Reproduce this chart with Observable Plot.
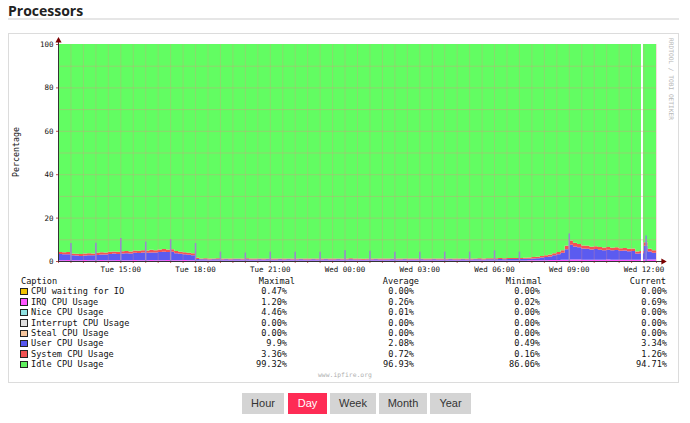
<!DOCTYPE html>
<html><head><meta charset="utf-8">
<script src="https://cdn.jsdelivr.net/npm/d3@7"></script>
<script src="https://cdn.jsdelivr.net/npm/@observablehq/plot@0.6"></script>
<style>
html,body{margin:0;padding:0;background:#fff;}
body{width:690px;height:423px;overflow:hidden;position:relative;}
.abs{position:absolute;white-space:pre;}
.mono{font-family:"DejaVu Sans Mono",monospace;color:#111;}
#title{left:8px;top:1px;font-family:"Open Sans",sans-serif;font-weight:700;font-size:14px;color:#222;}
#rule{left:8px;top:18px;width:671px;height:2px;background:#e6e6e6;}
#box{left:8px;top:33px;width:671px;height:350px;border:1px solid #dcdcdc;box-sizing:border-box;}
#chart{left:9px;top:34px;}
.btn{position:absolute;top:393px;height:21px;line-height:21px;text-align:center;font-family:"Liberation Sans",Arial,sans-serif;font-size:11px;color:#333;background:#d4d4d4;}
</style></head><body>
<div id="title" class="abs">Processors</div>
<div id="rule" class="abs"></div>
<div id="box" class="abs"></div>
<div id="chart" class="abs"></div>
<div id="legend"></div>
<div id="buttons"></div>
<script>
// ---- time axis ----
const startTime = "2024-01-02T12:30Z";
const endTime = "2024-01-03T12:30Z";
const stepMinutes = 10;

// stacked series, one value every 10 minutes (145 samples)
const irq = [
0.4,0.4,0.45,0.4,0.4,0.4,0.45,0.4,0.4,0.4,0.45,0.4,0.4,0.4,0.45,0.4,0.4,0.4,0.45,0.4,0.4,0.4,0.45,0.4,0.4,0.4,0.45,0.4,0.4,0.4,0.45,0.4,0.35,
0.25,0.2,0.2,0.2,0.2,0.2,0.2,0.2,0.2,0.2,0.2,0.2,
0.2,0.2,0.2,0.2,0.2,0.2,0.2,0.2,0.2,0.2,0.2,0.2,
0.2,0.2,0.2,0.2,0.2,0.2,0.2,0.2,0.2,0.2,0.2,0.2,
0.2,0.2,0.2,0.2,0.2,0.2,0.2,0.2,0.2,0.2,0.2,0.2,
0.2,0.2,0.2,0.2,0.2,0.2,0.2,0.2,0.2,0.2,0.2,0.2,
0.2,0.2,0.2,0.2,0.2,0.2,0.2,0.2,0.2,0.2,0.2,0.2,
0.2,0.2,0.2,0.2,0.2,0.2,
0.2,0.25,0.3,0.3,0.35,0.4,0.4,0.45,0.5,0.5,0.55,0.6,0.7,0.7,0.65,0.6,0.6,0.6,0.6,0.6,0.6,0.65,0.6,0.6,0.6,0.6,0.6,0.6,0.55,0.6,0.7,0.65,0.65,0.69];
const user = [
2.8,2.7,2.7,2.2,2.1,1.9,2.1,2.2,2.2,2.4,2.6,2.6,2.8,3.0,2.8,3.0,3.2,3.0,3.3,3.3,3.5,3.4,3.5,3.5,3.8,3.9,3.7,3.9,3.2,2.9,2.7,2.5,2.3,
0.7,0.6,0.6,0.5,0.6,0.6,0.5,0.6,0.5,0.6,0.6,0.5,
0.6,0.5,0.5,0.6,0.5,0.6,0.5,0.5,0.6,0.5,0.6,0.5,
0.5,0.6,0.5,0.5,0.6,0.5,0.5,0.6,0.5,0.5,0.6,0.5,
0.5,0.6,0.5,0.5,0.4,0.5,0.5,0.6,0.5,0.5,0.5,0.6,
0.5,0.5,0.6,0.5,0.5,0.5,0.6,0.5,0.5,0.6,0.5,0.5,
0.5,0.6,0.5,0.5,0.6,0.5,0.5,0.6,0.6,0.5,0.6,0.6,
0.6,0.7,0.6,0.7,0.7,0.7,
0.7,0.75,0.7,0.9,0.95,1.2,1.4,1.65,2.1,2.6,3.25,4.8,6.8,6.0,5.65,5.2,5.1,4.7,4.9,4.6,4.4,4.55,4.3,4.5,4.1,4.2,3.9,4.0,2.85,3.0,6.3,3.75,3.15,3.34];
const system = [
1.0,0.9,1.0,0.9,0.8,0.9,0.9,1.0,0.9,1.0,1.0,0.9,1.1,1.0,1.0,1.1,1.0,1.0,1.1,1.0,1.1,1.0,1.2,1.0,1.1,1.2,1.1,1.1,1.0,1.0,0.9,0.9,0.9,
0.5,0.4,0.45,0.4,0.4,0.45,0.4,0.4,0.45,0.4,0.4,0.4,
0.45,0.4,0.4,0.4,0.45,0.4,0.4,0.45,0.4,0.4,0.4,0.45,
0.4,0.4,0.45,0.4,0.4,0.4,0.45,0.4,0.4,0.45,0.4,0.4,
0.4,0.45,0.4,0.4,0.4,0.45,0.4,0.4,0.4,0.45,0.4,0.4,
0.45,0.4,0.4,0.4,0.45,0.4,0.4,0.4,0.45,0.4,0.4,0.45,
0.4,0.4,0.45,0.4,0.4,0.45,0.4,0.4,0.45,0.4,0.45,0.45,
0.45,0.5,0.45,0.5,0.5,0.5,
0.5,0.5,0.6,0.6,0.7,0.7,0.8,0.9,1.0,1.1,1.2,1.6,2.0,1.7,1.5,1.4,1.3,1.3,1.3,1.2,1.2,1.3,1.2,1.2,1.2,1.2,1.1,1.2,1.0,1.0,1.6,1.2,1.2,1.26];

// short hourly spikes (total height, %)
const spikeTimes = ["2024-01-02T13:00Z","2024-01-02T14:00Z","2024-01-02T15:00Z","2024-01-02T16:00Z","2024-01-02T17:00Z","2024-01-02T18:00Z","2024-01-02T19:00Z","2024-01-02T20:00Z","2024-01-02T21:00Z","2024-01-02T22:00Z","2024-01-02T23:00Z","2024-01-03T00:00Z","2024-01-03T01:00Z","2024-01-03T02:00Z","2024-01-03T03:00Z","2024-01-03T04:00Z","2024-01-03T05:00Z","2024-01-03T06:00Z","2024-01-03T07:00Z","2024-01-03T09:00Z","2024-01-03T12:05Z"];
const spikeTops = [8.3,8.4,10.6,8.9,10.1,8.3,4.3,3.9,4.3,4.3,4.3,4.9,4.7,4.3,4.3,4.3,4.3,4.9,4.3,12.7,11.8];
const gapTimes = ["2024-01-03T11:55Z"];

// stack order (bottom to top) and colours
const stackOrder = ["IRQ CPU Usage","User CPU Usage","System CPU Usage","Idle CPU Usage"];
const stackColors = ["#ff55ff","#5b5bf0","#f55252","#62fd62"];

// axis ticks
const xTickTimes = ["2024-01-02T15:00Z","2024-01-02T18:00Z","2024-01-02T21:00Z","2024-01-03T00:00Z","2024-01-03T03:00Z","2024-01-03T06:00Z","2024-01-03T09:00Z","2024-01-03T12:00Z"];
const xTickLabels = ["Tue 15:00","Tue 18:00","Tue 21:00","Wed 00:00","Wed 03:00","Wed 06:00","Wed 09:00","Wed 12:00"];
const yTicks = [0,20,40,60,80,100];
const yGrid = [10,20,30,40,50,60,70,80,90];

// legend table
const captions = ["CPU waiting for IO","IRQ CPU Usage","Nice CPU Usage","Interrupt CPU Usage","Steal CPU Usage","User CPU Usage","System CPU Usage","Idle CPU Usage"];
const captionColors = ["#f2c200","#ff55ff","#8ee0e0","#dedede","#f6c59c","#5757ee","#f05252","#5ff05f"];
const maximal = ["0.47%","1.20%","4.46%","0.00%","0.00%","9.9%","3.36%","99.32%"];
const average = ["0.00%","0.26%","0.01%","0.00%","0.00%","2.08%","0.72%","96.93%"];
const minimal = ["0.00%","0.02%","0.00%","0.00%","0.00%","0.49%","0.16%","86.06%"];
const current = ["0.00%","0.69%","0.00%","0.00%","0.00%","3.34%","1.26%","94.71%"];
const columnHeads = ["Maximal","Average","Minimal","Current"];
const periods = ["Hour","Day","Week","Month","Year"];
const activePeriod = "Day";

// ---- build ----
const t0 = new Date(startTime), t1 = new Date(endTime);
const times = user.map((_, i) => new Date(+t0 + i * stepMinutes * 60000));
const rows = [];
times.forEach((t, i) => {
  rows.push({time: t, series: stackOrder[0], value: irq[i]});
  rows.push({time: t, series: stackOrder[1], value: user[i]});
  rows.push({time: t, series: stackOrder[2], value: system[i]});
  rows.push({time: t, series: stackOrder[3], value: 100 - irq[i] - user[i] - system[i]});
});
const spikes = spikeTimes.map((t, i) => ({time: new Date(t), top: spikeTops[i]}));
const gaps = gapTimes.map(t => ({time: new Date(t)}));
const xTicks = xTickTimes.map(t => new Date(t));
const labelOf = new Map(xTicks.map((d, i) => [+d, xTickLabels[i]]));
const tArrow = new Date(+t1 + 16 * 60000);
const axisLineX = [{x1: t0, x2: tArrow, y: 0}];
const axisLineY = [{x: t0, y1: 0, y2: 101.5}];
const arrowsX = [{x: tArrow, y: 0}];
const arrowsY = [{x: t0, y: 101.8}];
const gridColor = "#e88a8a";

const chart = Plot.plot({
  width: 669, height: 245,
  marginLeft: 49, marginRight: 22, marginTop: 10, marginBottom: 18,
  style: {fontFamily: "DejaVu Sans Mono, monospace", fontSize: "7.5px", background: "transparent", color: "#111", overflow: "visible"},
  x: {type: "utc", domain: [t0, t1]},
  y: {domain: [0, 100]},
  color: {domain: stackOrder, range: stackColors},
  marks: [
    Plot.areaY(rows, {x: "time", y: "value", z: "series", fill: "series", curve: "step-after"}),
    Plot.ruleX(spikes, {x: "time", y1: 0, y2: "top", stroke: "#8a86de", strokeWidth: 1.5}),
    Plot.ruleX(gaps, {x: "time", y1: 0, y2: 100, stroke: "#fff", strokeWidth: 2}),
    Plot.gridY({ticks: yGrid, stroke: gridColor, strokeOpacity: 0.35}),
    Plot.gridX({ticks: d3.utcMinute.every(30), stroke: gridColor, strokeOpacity: 0.3}),
    Plot.axisY({ticks: yTicks, tickSize: 2, tickPadding: 3, label: null, stroke: "#c05050"}),
    Plot.axisX({ticks: d3.utcMinute.every(30), tickSize: 2, tickFormat: () => "", label: null, stroke: "#d06060"}),
    Plot.axisX({ticks: xTicks, tickSize: 0, tickPadding: 5, tickFormat: d => labelOf.get(+d), label: null}),
    Plot.ruleY(axisLineX, {x1: "x1", x2: "x2", y: "y", stroke: "#333"}),
    Plot.ruleX(axisLineY, {x: "x", y1: "y1", y2: "y2", stroke: "#333"}),
    Plot.dot(arrowsX, {x: "x", y: "y", symbol: "triangle", r: 2.3, fill: "#7a0000", rotate: 90}),
    Plot.dot(arrowsY, {x: "x", y: "y", symbol: "triangle", r: 2.3, fill: "#7a0000"})
  ]
});
document.getElementById("chart").appendChild(chart);

// extra text inside the graph image
function addText(txt, css, cls) {
  const d = document.createElement("div");
  d.className = "abs " + (cls || "");
  d.textContent = txt;
  d.style.cssText += css;
  document.body.appendChild(d);
  return d;
}
addText("Percentage", "left:16px;top:152px;font-size:8.3px;line-height:10px;transform:translate(-50%,-50%) rotate(-90deg);", "mono");
addText("RRDTOOL / TOBI OETIKER", "left:671px;top:38px;font-size:6.2px;line-height:7px;color:#b8b8b8;transform-origin:0 0;transform:translate(3.5px,0) rotate(90deg);", "mono");
addText("www.ipfire.org", "left:318px;top:371px;font-size:6.4px;line-height:8px;color:#b0b0b0;", "mono");

// legend
const rowY = [291.3, 301.7, 312.1, 322.6, 333.0, 343.4, 353.9, 364.4];
const headY = 281;
const colRight = [287, 414, 540, 667];
const headRight = [295, 419, 542, 666];
const fs = "font-size:8.6px;line-height:10px;";
addText("Caption", `left:21px;top:${headY - 5}px;` + fs, "mono");
columnHeads.forEach((h, j) => addText(h, `left:${headRight[j] - 120}px;width:120px;text-align:right;top:${headY - 5}px;` + fs, "mono"));
const cols = [maximal, average, minimal, current];
captions.forEach((c, i) => {
  const y = rowY[i];
  const sw = document.createElement("div");
  sw.className = "abs";
  sw.style.cssText = `left:20px;top:${y - 3.5}px;width:5.5px;height:5.5px;border:1px solid #222;background:${captionColors[i]};`;
  document.body.appendChild(sw);
  addText(c, `left:31px;top:${y - 5}px;` + fs, "mono");
  cols.forEach((col, j) => addText(col[i], `left:${colRight[j] - 120}px;width:120px;text-align:right;top:${y - 5}px;` + fs, "mono"));
});

// period buttons
const btnLeft = [242, 288, 330, 379, 430];
const btnWidth = [42, 39, 46, 48, 41];
periods.forEach((p, i) => {
  const b = document.createElement("div");
  b.className = "btn";
  b.textContent = p;
  b.style.left = btnLeft[i] + "px";
  b.style.width = btnWidth[i] + "px";
  if (p === activePeriod) { b.style.background = "#fe2c55"; b.style.color = "#fff"; }
  document.body.appendChild(b);
});
</script>
</body></html>
